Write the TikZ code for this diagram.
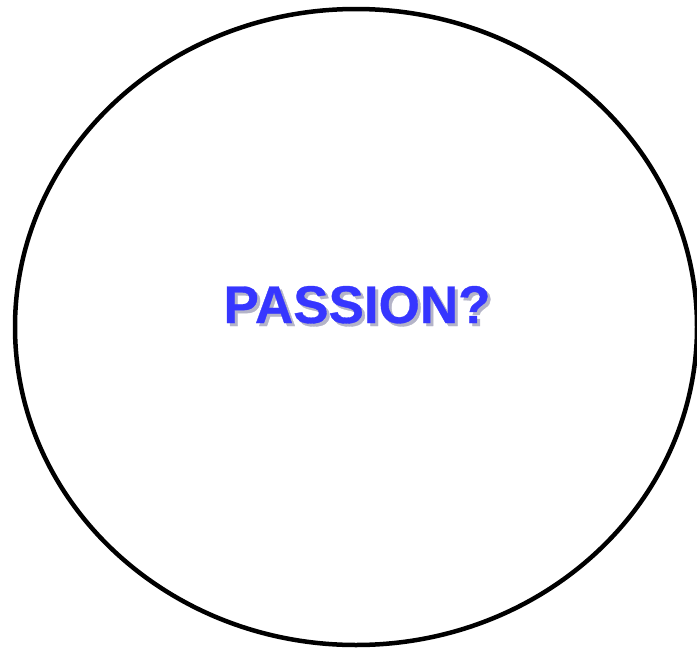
\documentclass[tikz,border=0pt]{standalone}
\usepackage{fontspec}
\setmainfont{Liberation Sans}
\newfontfamily\titlefont[FakeBold=0.6]{Liberation Sans Bold}
\definecolor{passblue}{HTML}{3636FF}
\definecolor{shadowgray}{HTML}{B4B4C8}
\newcommand{\shadowtext}[1]{\makebox[0pt][l]{\hspace{3pt}\raisebox{-3pt}{\textcolor{shadowgray}{#1}}}\textcolor{passblue}{#1}}
\tikzset{
  ring/.style={draw=black, line width=4.5pt},
  title/.style={font=\fontsize{53}{60}\selectfont\titlefont, inner sep=0pt, anchor=base}
}
\begin{document}
\begin{tikzpicture}[x=1pt,y=-1pt]
\useasboundingbox (0,0) rectangle (697,651);
\begin{scope}
\clip (0,0) rectangle (697,651);
\draw[ring] (356,327) ellipse [x radius=341, y radius=318];
\end{scope}
\node[title] (label) at (357,323) {\shadowtext{PASSION?}};
\end{tikzpicture}
\end{document}
